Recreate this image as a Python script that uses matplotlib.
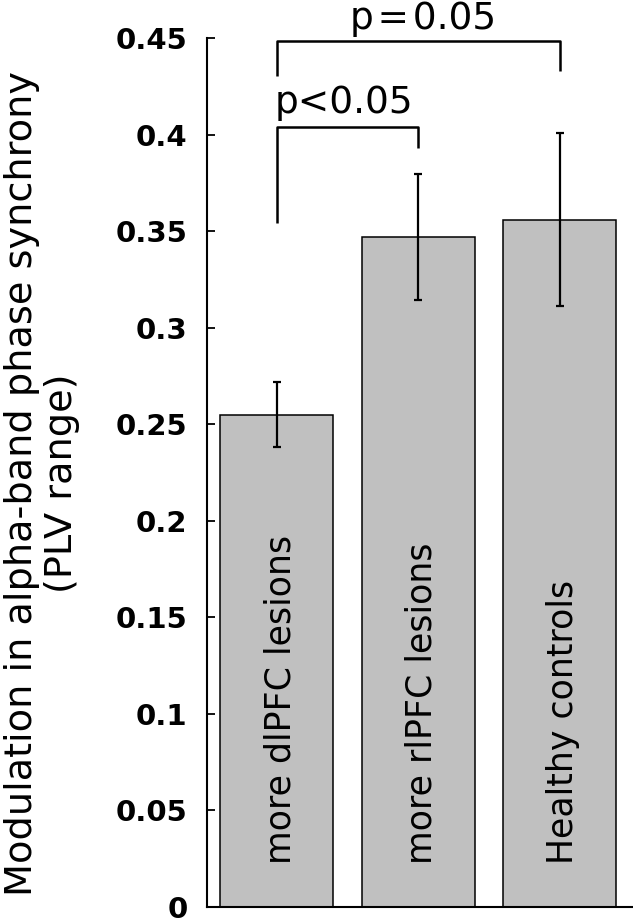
import numpy as np
import matplotlib
matplotlib.use("Agg")
import matplotlib.pyplot as plt

# group names, mean PLV modulation and error bar half-lengths
groups = ["more dlPFC lesions", "more rlPFC lesions", "Healthy controls"]
means = [0.255, 0.347, 0.356]
errors = [0.017, 0.0325, 0.045]
ytick_vals = [0, 0.05, 0.1, 0.15, 0.2, 0.25, 0.3, 0.35, 0.4, 0.45]
ytick_labels = ["0", "0.05", "0.1", "0.15", "0.2", "0.25", "0.3", "0.35", "0.4", "0.45"]

# significance brackets: (left group, right group, bar height, left foot, right foot, text)
brackets = [
    (0, 2, 0.4486, 0.4303, 0.4329, "p\u200a=\u200a0.05"),
    (0, 1, 0.4041, 0.3544, 0.3930, "p<0.05"),
]
label_y = [0.4547, 0.4112]

fig = plt.figure(figsize=(6.33, 9.22), dpi=100)
ax = fig.add_axes([0.327, 0.0163, 0.673, 0.9425])

x = np.arange(len(groups))
ax.bar(x, means, width=0.8, color="#c0c0c0", edgecolor="black", linewidth=1.1, zorder=2)
ax.errorbar(x, means, yerr=errors, fmt="none", ecolor="black", elinewidth=1.6,
            capsize=3, capthick=1.6, zorder=3)

# group labels written inside the bars
for i, name in enumerate(groups):
    ax.text(i + 0.095, 0.022, name, rotation=90, rotation_mode="anchor",
            ha="left", va="baseline", fontsize=25, color="black", zorder=4)

# brackets
for (a, b, h, fa, fb, txt), ty in zip(brackets, label_y):
    ax.plot([a, a, b, b], [fa, h, h, fb], color="black", lw=1.8,
            clip_on=False, solid_capstyle="butt", zorder=4)
for (a, b, h, fa, fb, txt), ty, cx in zip(brackets, label_y, [1.032, 0.473]):
    ax.text(cx, ty, txt, ha="center", va="baseline", fontsize=27, clip_on=False)

ax.set_xlim(-0.495, 2.52)
ax.set_ylim(0, 0.45)
ax.set_xticks([])
ax.set_yticks(ytick_vals)
ax.set_yticklabels(ytick_labels, fontsize=21, fontweight="bold")
ax.tick_params(axis="y", direction="in", length=6, width=1.3, pad=14)

for side in ["top", "right"]:
    ax.spines[side].set_visible(False)
ax.spines["left"].set_linewidth(1.5)
ax.spines["bottom"].set_linewidth(1.5)

fig.text(42 / 633, 1 - 483 / 922,
         "Modulation in alpha-band phase synchrony\n(PLV range)",
         rotation=90, ha="center", va="center", multialignment="center",
         fontsize=27.5, linespacing=1.15)

fig.savefig("out.png", dpi=100)
